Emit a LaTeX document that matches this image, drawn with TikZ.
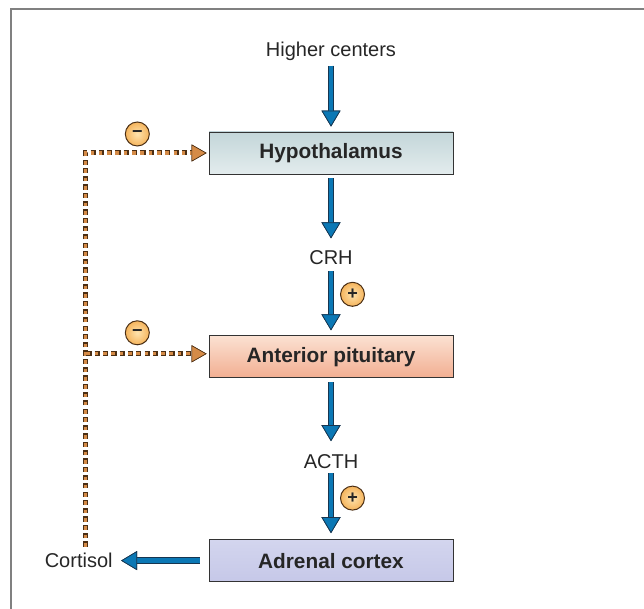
\documentclass[tikz,border=0pt]{standalone}
\usepackage{fontspec}
\setmainfont{Liberation Sans}
\usepackage{xcolor}
\usepackage{tikz}
\usetikzlibrary{positioning,arrows.meta}

\definecolor{flowblue}{HTML}{0B78B5}
\definecolor{flowdark}{HTML}{17354F}
\definecolor{fborange}{HTML}{D58B47}
\definecolor{fbdark}{HTML}{4A2E14}
\definecolor{hypotop}{HTML}{C3D6D9}
\definecolor{hypobot}{HTML}{E3ECED}
\definecolor{pittop}{HTML}{FBE1D2}
\definecolor{pitbot}{HTML}{F2AE91}
\definecolor{adrtop}{HTML}{D3D5EE}
\definecolor{adrbot}{HTML}{C6C8E8}
\definecolor{signin}{HTML}{FEE3AE}
\definecolor{signout}{HTML}{F5B45C}

\begin{document}
\begin{tikzpicture}[
      x=1pt,y=1pt,
      node distance=161pt,
      font=\fontsize{20}{24}\selectfont,
      gland/.style={rectangle,draw=black!80,line width=0.8pt,minimum width=244pt,minimum height=42pt,
        font=\fontsize{20.8}{24}\selectfont\bfseries,text=black!85},
      label/.style={inner sep=0pt,outer sep=0pt,text=black!85},
      sign/.style={circle,solid,draw=fbdark,line width=1pt,minimum size=24pt,inner sep=0pt,
        inner color=signin,outer color=signout,font=\fontsize{18}{18}\selectfont\bfseries,text=black!85},
      flow/.style={line width=4.6pt,draw=flowblue,
        -{Triangle[length=16pt,width=19pt,color=flowdark,fill=flowblue,line width=0.7pt]},
        preaction={draw=flowdark,line width=6.8pt,
          -{Triangle[length=16pt,width=19pt,color=flowdark,fill=flowblue,line width=0.7pt]}}},
      fb/.style={line width=3.4pt,draw=fborange,dash pattern=on 3.6pt off 4.7pt,dash phase=7.6pt,
        -{Triangle[length=15pt,width=17pt,color=fbdark,fill=fborange,line width=0.6pt]},
        preaction={draw=fbdark,line width=5pt,dash pattern=on 5.2pt off 3.1pt,
          -{Triangle[length=15pt,width=17pt,color=fbdark,fill=fborange,line width=0.6pt]}}},
    ]
    \useasboundingbox (0,0) rectangle (644,609);
    \draw[line width=2pt,draw=black!50] (11,0) -- (11,599.5) -- (644,599.5);

    \node[gland,top color=hypotop,bottom color=hypobot] (hypo) at (331,456) {Hypothalamus};
    \node[gland,top color=pittop,bottom color=pitbot,below=of hypo] (pit) {Anterior pituitary};
    \node[gland,top color=adrtop,bottom color=adrbot,below=of pit] (adr) {Adrenal cortex};
    \node[label,above=71pt of hypo] (higher) {Higher centers};
    \node[label,below=76pt of hypo] (crh) {CRH};
    \node[label,below=76pt of pit] (acth) {ACTH};
    \node[label,left=96pt of adr] (cortisol) {Cortisol};
    \coordinate (fbbase) at ([xshift=7pt]cortisol.north);

    \draw[flow,shorten <=5pt,shorten >=5pt] (higher) -- (hypo);
    \draw[flow,shorten <=4pt,shorten >=12pt] (hypo) -- (crh);
    \draw[flow,shorten <=6.5pt,shorten >=5pt] (crh) -- node[sign,pos=0.42,right=9pt] (plus1) {+} (pit);
    \draw[flow,shorten <=4pt,shorten >=13pt] (pit) -- (acth);
    \draw[flow,shorten <=5pt,shorten >=6pt] (acth) -- node[sign,pos=0.42,right=9pt] (plus2) {+} (adr);
    \draw[flow,shorten <=9pt,shorten >=8.5pt] (adr) -- (cortisol);

    \draw[fb,shorten <=6pt,shorten >=2pt] (fbbase) |- node[sign,pos=0.71,above=6.5pt] (minus1) {−} (hypo.west);
    \draw[fb,shorten >=2pt] ([yshift=3pt]fbbase |- pit.west) -- node[sign,pos=0.42,above=8.5pt] (minus2) {−} ([yshift=3pt]pit.west);
  \end{tikzpicture}
\end{document}
